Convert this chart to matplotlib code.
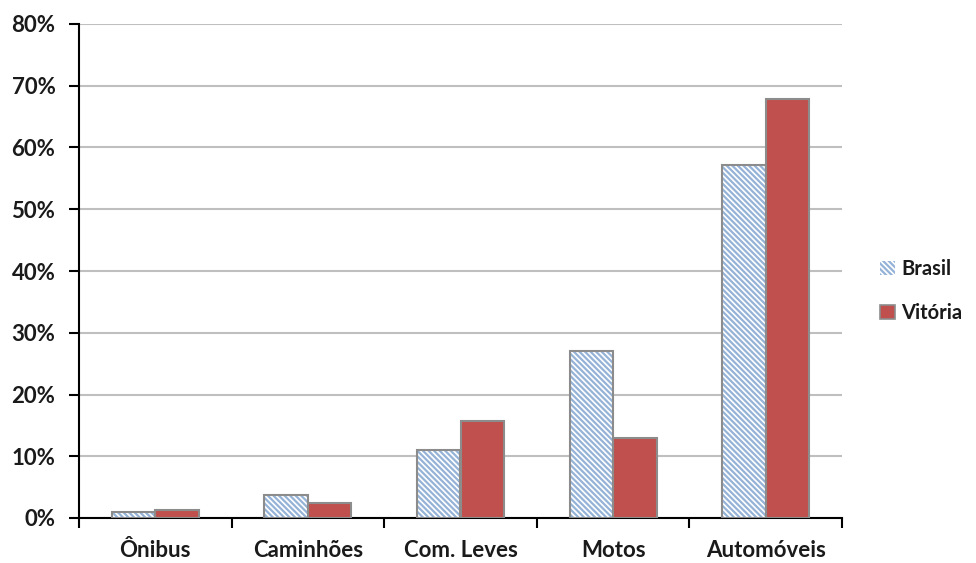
import matplotlib.pyplot as plt
import numpy as np
from matplotlib.patches import Patch
from matplotlib.ticker import FuncFormatter

categories = ["Ônibus", "Caminhões", "Com. Leves", "Motos", "Automóveis"]
brasil = [0.9, 3.7, 11.0, 27.0, 57.2]
vitoria = [1.3, 2.4, 15.7, 13.0, 67.9]
series_names = ["Brasil", "Vitória"]

plt.rcParams['font.family'] = ['Lato', 'DejaVu Sans']
plt.rcParams['hatch.linewidth'] = 1.6

blue = '#95B3D7'
red = '#C0504D'
edge = '#8C8C8C'

fig = plt.figure(figsize=(9.76, 5.63), dpi=100)
ax = fig.add_axes([79/976, 45/563, (842-79)/976, (539-45)/563])

x = np.arange(len(categories))
w = 0.285

# hatched bars: draw hatch first, then the grey outline
ax.bar(x - w/2, brasil, w, color='white', edgecolor=blue, hatch='\\\\\\\\\\\\', linewidth=0, zorder=3)
ax.bar(x - w/2, brasil, w, fill=False, edgecolor=edge, linewidth=1.5, zorder=4)
ax.bar(x + w/2, vitoria, w, color=red, edgecolor=edge, linewidth=1.5, zorder=3)

ax.set_ylim(0, 80)
ax.set_xlim(-0.5, len(categories) - 0.5)
ax.set_yticks(np.arange(0, 81, 10))
ax.yaxis.set_major_formatter(FuncFormatter(lambda v, p: f"{int(v)}%"))
ax.yaxis.grid(True, color='#BFBFBF', linewidth=1.5, zorder=0)
ax.set_axisbelow(True)

ax.set_xticks(np.arange(-0.5, len(categories)))
ax.set_xticklabels([])
ax.set_xticks(x, minor=True)
ax.set_xticklabels(categories, minor=True)
ax.tick_params(axis='x', which='minor', length=0, pad=16)
ax.tick_params(axis='x', which='major', length=7, width=1.5, direction='out')
ax.tick_params(axis='y', length=7, width=1.5, direction='out', pad=10)

for lab in ax.get_yticklabels() + ax.get_xticklabels(minor=True):
    lab.set_fontweight('bold')
    lab.set_fontsize(16)
    lab.set_color('#1a1a1a')

for s in ['top', 'right']:
    ax.spines[s].set_visible(False)
for s in ['left', 'bottom']:
    ax.spines[s].set_linewidth(1.5)

handles = [Patch(facecolor='white', edgecolor=blue, hatch='\\\\\\\\\\\\', linewidth=0),
           Patch(facecolor=red, edgecolor=edge, linewidth=1.2)]
leg = fig.legend(handles, series_names, loc='center left', bbox_to_anchor=(880/976, 1 - 291/563),
                 frameon=False, handlelength=0.75, handleheight=0.75, handletextpad=0.3,
                 labelspacing=1.2, borderaxespad=0, borderpad=0,
                 prop={'weight': 'bold', 'size': 14.5})
for t in leg.get_texts():
    t.set_color('#1a1a1a')

fig.savefig('out.png', dpi=100)
